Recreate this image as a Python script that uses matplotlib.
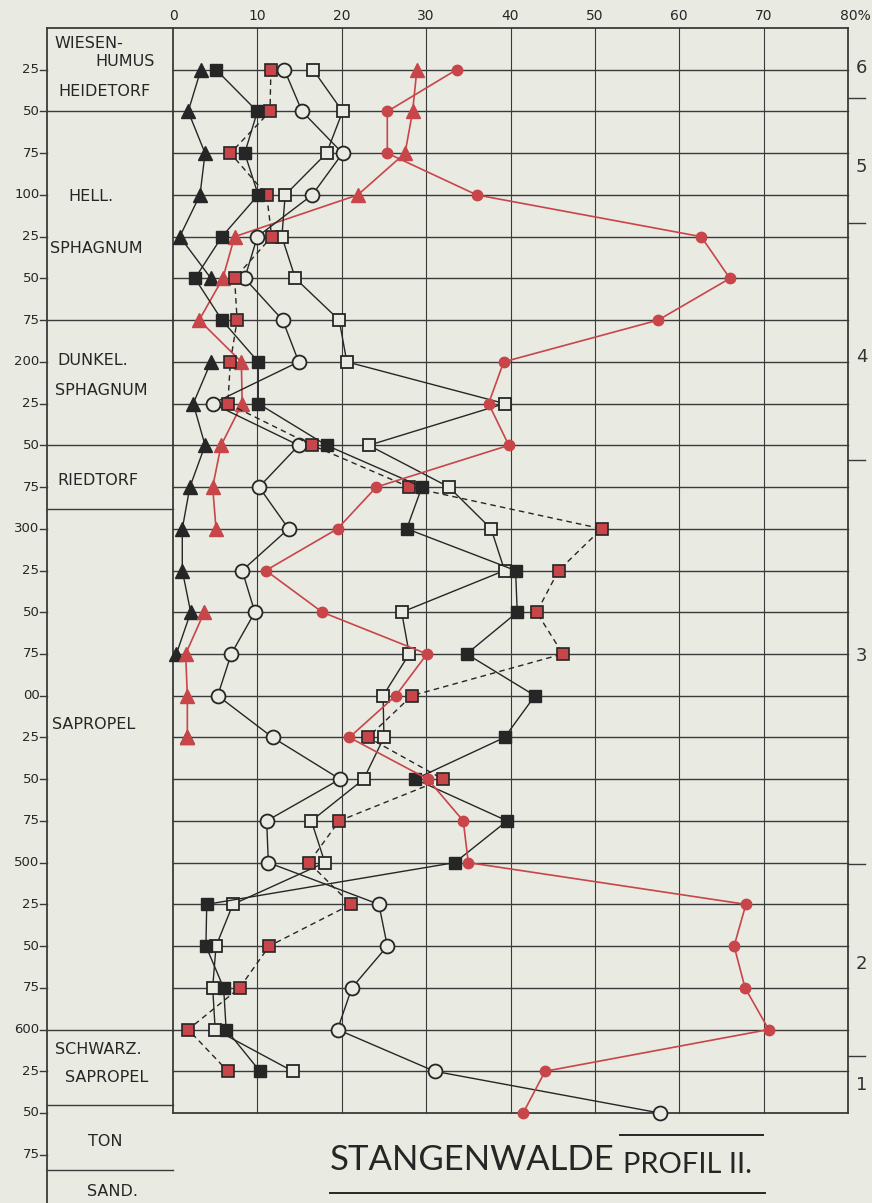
import matplotlib
matplotlib.use("Agg")
import matplotlib.pyplot as plt
import numpy as np

PAPER = "#e9eae1"
INK = "#262626"
GRID = "#3a3a3a"
RED = "#c8454a"
NAN = np.nan

# sample depths (cm)
depth = [25, 50, 75, 100, 125, 150, 175, 200, 225, 250, 275, 300, 325,
         350, 375, 400, 425, 450, 475, 500, 525, 550, 575, 600, 625, 650]

# pollen percentages per taxon (NaN = not counted at that level)
tri_black = [3.3, 1.8, 3.8, 3.2, 0.8, 4.5, NAN, 4.5, 2.4, 3.8, 2.0, 1.1, 1.1,
             2.1, 0.4, NAN, 1.7, NAN, NAN, NAN, NAN, NAN, NAN, NAN, NAN, NAN]
tri_red = [28.9, 28.4, 27.5, 21.9, 7.3, 5.9, 3.1, 8.1, 8.2, 5.7, 4.7, 5.1, NAN,
           3.7, 1.5, 1.7, 1.7, NAN, NAN, NAN, NAN, NAN, NAN, NAN, NAN, NAN]
dot_red = [33.6, 25.4, 25.4, 36.0, 62.6, 66.0, 57.5, 39.2, 37.4, 39.8, 24.1, 19.5, 11.0,
           17.7, 30.1, 26.4, 20.9, 30.2, 34.4, 35.0, 67.9, 66.5, 67.8, 70.6, 44.1, 41.5]
sq_black = [5.1, 10.0, 8.5, 10.1, 5.8, 2.6, 5.8, 10.1, 10.1, 18.2, 29.5, 27.7, 40.6,
            40.8, 34.8, 42.9, 39.3, 28.7, 39.6, 33.4, 4.0, 3.9, 6.0, 6.3, 10.3, NAN]
sq_red = [11.6, 11.5, 6.8, 11.1, 11.7, 7.3, 7.6, 6.8, 6.5, 16.5, 28.0, 50.8, 45.7,
          43.1, 46.2, 28.3, 23.1, 32.0, 19.7, 16.1, 21.1, 11.4, 7.9, 1.8, 6.5, NAN]
sq_open = [16.6, 20.1, 18.2, 13.3, 12.9, 14.5, 19.7, 20.6, 39.3, 23.2, 32.7, 37.7, 39.3,
           27.1, 28.0, 24.9, 25.0, 22.6, 16.4, 18.0, 7.1, 5.1, 4.7, 5.0, 14.2, NAN]
circ_open = [13.2, 15.3, 20.1, 16.5, 10.0, 8.5, 13.0, 14.9, 4.7, 14.9, 10.2, 13.7, 8.2,
             9.7, 6.9, 5.3, 11.8, 19.8, 11.1, 11.3, 24.4, 25.4, 21.2, 19.5, 31.0, 57.7]

# axis annotation
x_ticks = [0, 10, 20, 30, 40, 50, 60, 70, 80]
x_tick_labels = ["0", "10", "20", "30", "40", "50", "60", "70", "80%"]
depth_ticks = list(range(25, 676, 25))
depth_tick_labels = ["25", "50", "75", "100", "25", "50", "75", "200", "25", "50", "75",
                     "300", "25", "50", "75", "00", "25", "50", "75", "500", "25", "50",
                     "75", "600", "25", "50", "75"]

# stratigraphy column
strata_labels = ["WIESEN-", "HUMUS", "HEIDETORF", "HELL.", "SPHAGNUM", "DUNKEL.",
                 "SPHAGNUM", "RIEDTORF", "SAPROPEL", "SCHWARZ.", "SAPROPEL", "TON", "SAND."]
strata_label_x = [-14.0, -9.2, -13.6, -12.4, -14.6, -13.7, -14.0, -13.7, -14.3,
                  -14.0, -12.8, -10.1, -10.2]
strata_label_depth = [9, 20, 38, 101, 132, 199, 217, 271, 417, 612, 629, 667, 697]
strata_bounds = [0, 50, 175, 250, 288, 600, 645, 684]

# pollen zones
zone_labels = ["6", "5", "4", "3", "2", "1"]
zone_label_depth = [24, 83, 197, 376, 561, 633]
zone_bounds = [42, 117, 259, 501, 616]

plt.rcParams["font.family"] = ["DejaVu Sans"]
TITLE_FONT = ["Lato", "DejaVu Sans"]

fig = plt.figure(figsize=(8.72, 12.03), dpi=100, facecolor=PAPER)
ax = fig.add_axes([173 / 872, 1 - 1113 / 1203, 675 / 872, 1085 / 1203])
ax.set_facecolor(PAPER)
ax.set_xlim(0, 80)
ax.set_ylim(650, 0)
ax.axis("off")

LEFT = -14.93  # left edge of stratigraphy column

# grid
for x in x_ticks:
    lw = 1.3 if x in (0, 80) else 0.8
    ax.plot([x, x], [0, 650], color=GRID, lw=lw, zorder=1, clip_on=False)
for d in range(25, 626, 25):
    ax.plot([0, 80], [d, d], color=GRID, lw=1.0, zorder=1, clip_on=False)
ax.plot([LEFT, 80], [0, 0], color=GRID, lw=1.3, zorder=1, clip_on=False)
ax.plot([0, 80], [650, 650], color=GRID, lw=1.3, zorder=1, clip_on=False)

# stratigraphy column
ax.plot([LEFT, LEFT], [0, 705], color=GRID, lw=1.3, clip_on=False)
for b in strata_bounds[1:]:
    ax.plot([LEFT, 0], [b, b], color=GRID, lw=1.0, clip_on=False)
for d, lab in zip(depth_ticks, depth_tick_labels):
    ax.plot([LEFT - 0.8, LEFT], [d, d], color=GRID, lw=1.0, clip_on=False)
    ax.text(LEFT - 0.9, d, lab, ha="right", va="center", fontsize=9.5,
            color=INK, clip_on=False)
for lab, x, d in zip(strata_labels, strata_label_x, strata_label_depth):
    ax.text(x, d, lab, ha="left", va="center", fontsize=11.5, color=INK,
            clip_on=False)

# percentage scale on top
for x, lab in zip(x_ticks, x_tick_labels):
    ax.text(x + (0.9 if lab.endswith("%") else 0), -7, lab, ha="center",
            va="center", fontsize=10, color=INK, clip_on=False)

# zones on the right
for b in zone_bounds:
    ax.plot([80, 82], [b, b], color=GRID, lw=1.0, clip_on=False)
for lab, d in zip(zone_labels, zone_label_depth):
    ax.text(80.9, d, lab, ha="left", va="center", fontsize=13, color="#333333",
            clip_on=False)

# pollen curves
ax.plot(tri_black, depth, color=INK, lw=1.0, marker="^", ms=10,
        mfc=INK, mec=INK, zorder=4, clip_on=False)
ax.plot(tri_red, depth, color=RED, lw=1.2, marker="^", ms=10,
        mfc=RED, mec=RED, zorder=4, clip_on=False)
ax.plot(circ_open, depth, color=INK, lw=1.0, marker="o", ms=10,
        mfc=PAPER, mec=INK, mew=1.3, zorder=5, clip_on=False)
ax.plot(sq_open, depth, color=INK, lw=1.0, marker="s", ms=9,
        mfc=PAPER, mec=INK, mew=1.3, zorder=5, clip_on=False)
ax.plot(sq_red, depth, color=INK, lw=1.0, ls=(0, (4, 3)), marker="s", ms=9,
        mfc=RED, mec=INK, mew=1.2, zorder=6, clip_on=False)
ax.plot(sq_black, depth, color=INK, lw=1.0, marker="s", ms=8.5,
        mfc=INK, mec=INK, zorder=6, clip_on=False)
ax.plot(dot_red, depth, color=RED, lw=1.2, marker="o", ms=7.5,
        mfc=RED, mec=RED, zorder=7, clip_on=False)

# title
ax.text(18.6, 678, "STANGENWALDE", ha="left", va="center", fontsize=25,
        family=TITLE_FONT, color=INK, clip_on=False)
ax.text(53.3, 681, "PROFIL II.", ha="left", va="center", fontsize=21,
        family=TITLE_FONT, color=INK, clip_on=False)
ax.plot([53.0, 69.9], [663, 663], color=INK, lw=1.4, clip_on=False)
ax.plot([18.6, 70.2], [698, 698], color=INK, lw=1.4, clip_on=False)

fig.savefig("out.png", dpi=100, facecolor=PAPER)
